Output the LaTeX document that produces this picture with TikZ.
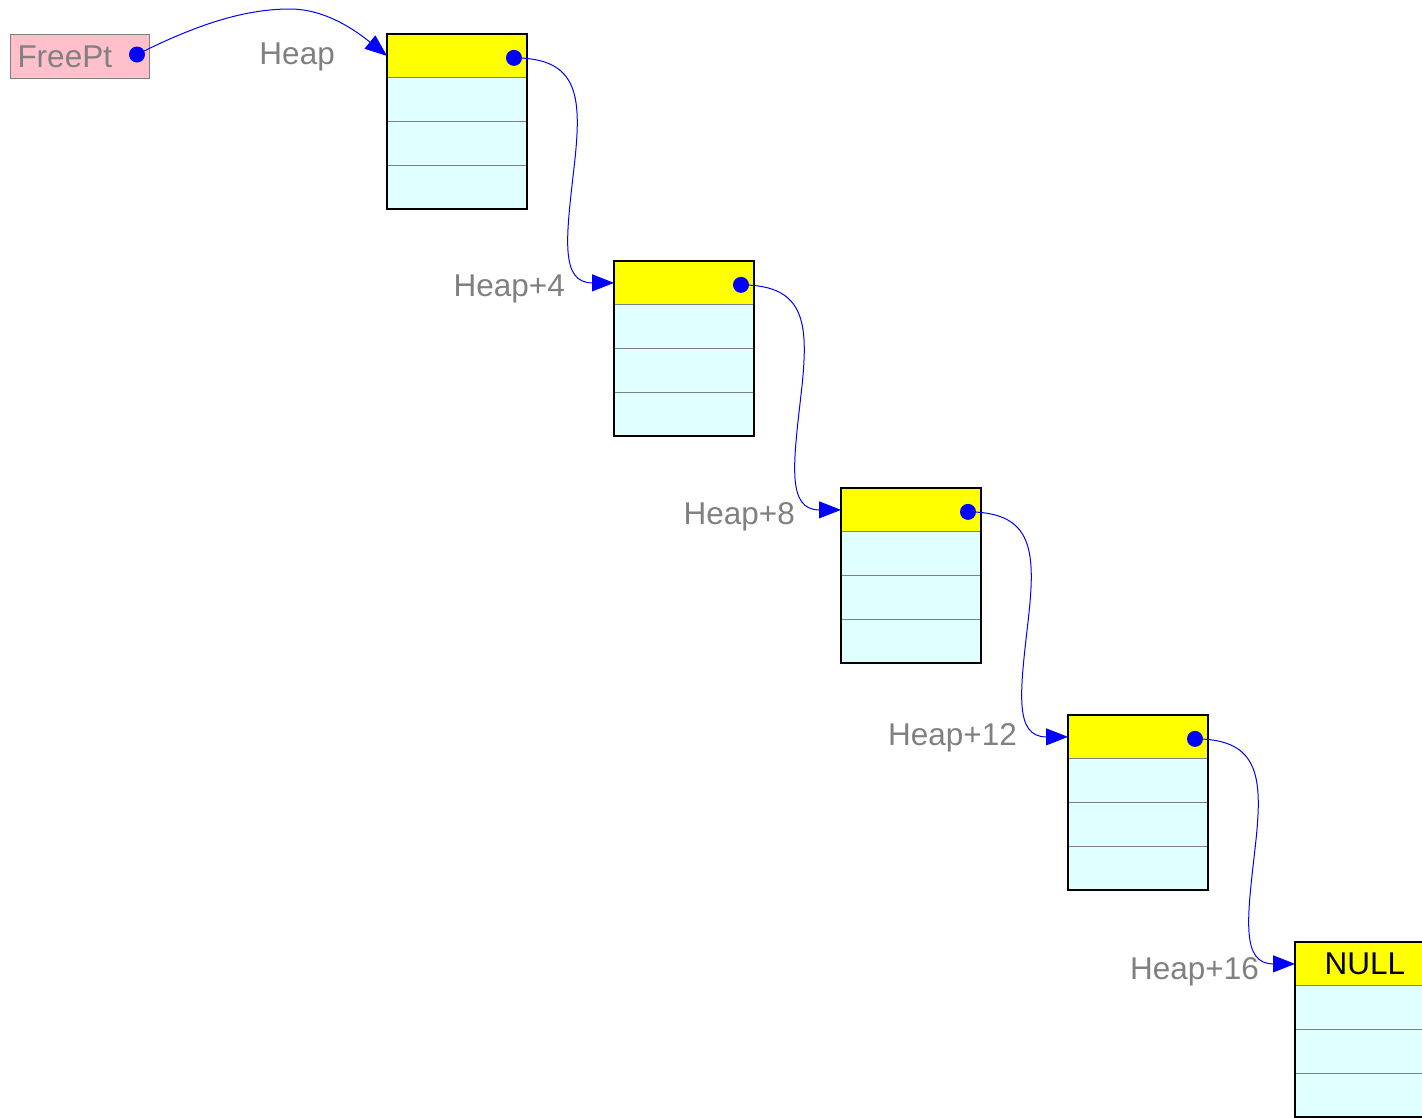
\documentclass[tikz,border=0pt]{standalone}
\usepackage{fontspec}
\setmainfont{Liberation Sans}
\usetikzlibrary{positioning, arrows.meta, calc}
\definecolor{cellcyan}{RGB}{224,255,255}
\definecolor{freepink}{RGB}{255,192,203}
\definecolor{headyellow}{RGB}{255,255,0}

\begin{document}
\begin{tikzpicture}[x=1pt, y=-1pt,
    font=\fontsize{31.5}{36}\selectfont,
    cell/.style={draw=gray, line width=1pt, fill=cellcyan, minimum width=140pt,
        minimum height=43.75pt, inner sep=0pt, outer sep=0pt},
    headcell/.style={cell, fill=headyellow},
    frame/.style={draw=black, line width=2.5pt},
    dot/.style={circle, fill=blue, minimum size=16pt, inner sep=0pt},
    link/.style={draw=blue, line width=1pt, -{Triangle[length=22pt,width=17pt]}},
    lbl/.style={text=gray, inner sep=0pt, anchor=east},
]
\path[use as bounding box, clip] (0,0) rectangle (1422,1117);

\node[draw=gray, line width=1pt, fill=freepink, text=gray, anchor=north west,
    minimum height=44pt, text width=125pt, align=left, inner sep=7pt] (free) at (10,34) {FreePt};
\node[dot, xshift=-13pt, yshift=2pt] (fd) at (free.east) {};

\foreach \i/\txt in {1/{},2/{},3/{},4/{},5/NULL} {
    \pgfmathsetmacro\bx{387+227*(\i-1)}
    \pgfmathsetmacro\by{34+227*(\i-1)}
    \node[headcell, anchor=north west] (h\i) at (\bx,\by) {\txt};
    \node[cell, below=0pt of h\i] (h\i-1) {};
    \node[cell, below=0pt of h\i-1] (h\i-2) {};
    \node[cell, below=0pt of h\i-2] (h\i-3) {};
    \draw[frame] (h\i.north west) rectangle (h\i-3.south east);
}
\foreach \i in {1,...,4}
    \node[dot, xshift=-13pt, yshift=-2pt] (d\i) at (h\i.east) {};

\node[lbl] (l1) at (335,57) {Heap};
\node[lbl] (l2) at (565,289) {Heap+4};
\node[lbl] (l3) at (795,517) {Heap+8};
\node[lbl] (l4) at (1017,738) {Heap+12};
\node[lbl] (l5) at (1259,972) {Heap+16};

\draw[link] (fd.center) .. controls (190,28) and (240,9) .. (290,9)
    .. controls (325,9) and (355,30) .. (h1.west);
\foreach \i [evaluate=\i as \j using int(\i+1)] in {1,...,4}
    \draw[link] (d\i.center) .. controls ($(d\i.center)+(66,0)$) and ($(d\i.center)+(68,40)$)
        .. ($(d\i.center)+(60,110)$)
        .. controls ($(d\i.center)+(52,180)$) and ($(h\j.west)+(-54,0)$) .. (h\j.west);
\end{tikzpicture}
\end{document}
